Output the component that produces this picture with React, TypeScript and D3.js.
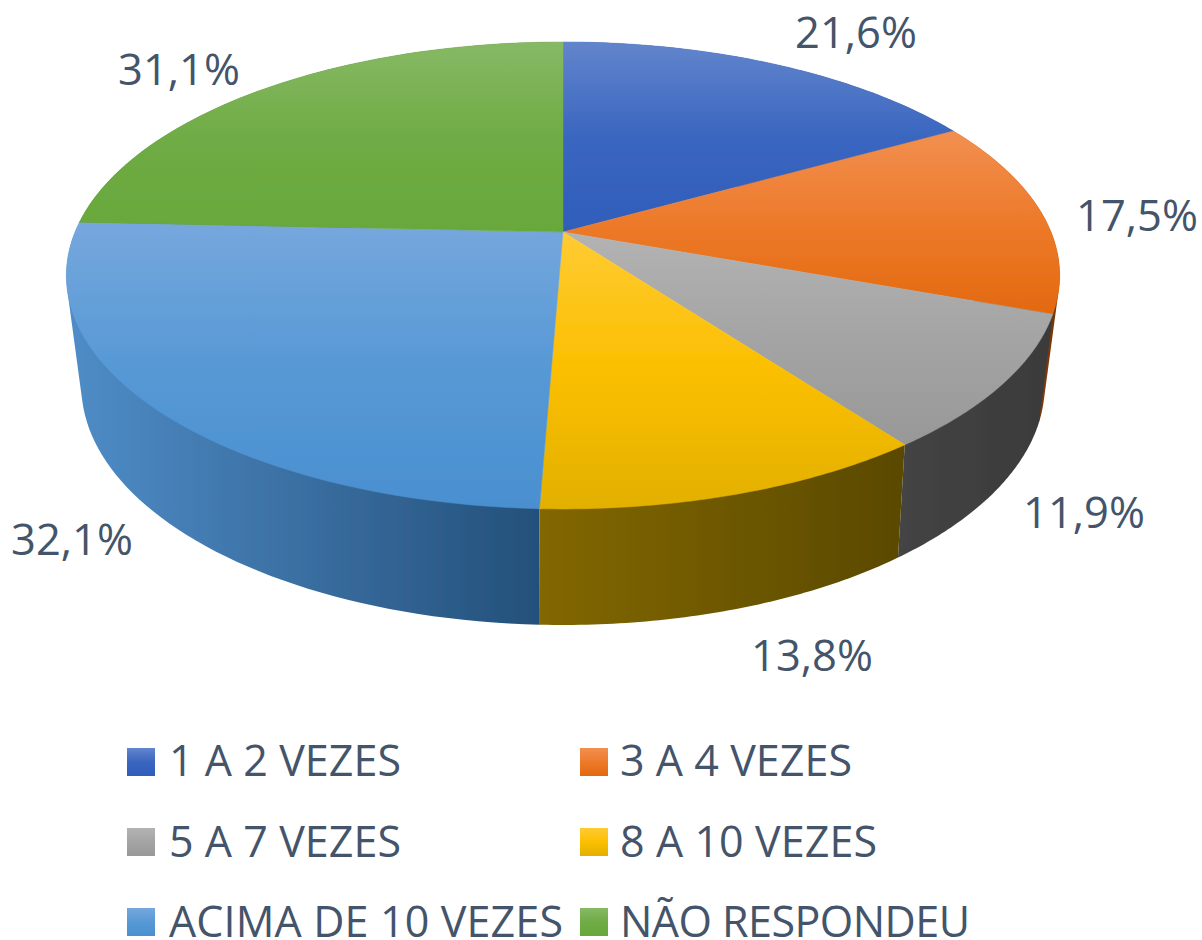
import React from "react";
import * as d3 from "d3";

const categories = ["1 A 2 VEZES", "3 A 4 VEZES", "5 A 7 VEZES", "8 A 10 VEZES", "ACIMA DE 10 VEZES", "NÃO RESPONDEU"];
const values = [21.6, 17.5, 11.9, 13.8, 32.1, 31.1];
const valueLabels = ["21,6%", "17,5%", "11,9%", "13,8%", "32,1%", "31,1%"];

const topLight = ["#6285cc", "#f28f50", "#b3b3b3", "#ffcb33", "#76a7dd", "#87b965"];
const topMid = ["#3a66c0", "#ed7a2a", "#a4a4a4", "#fbbf00", "#5799d5", "#6fac45"];
const topDark = ["#2f5dba", "#e3690f", "#989898", "#e2b000", "#4a8fd0", "#68a83b"];
const wallLeft = ["#274a8e", "#a8500f", "#444444", "#826700", "#4f8dc8", "#4d7d2c"];
const wallRight = ["#1f3c74", "#70360a", "#3a3a3a", "#5a4900", "#24507a", "#3e6624"];

const W = 1202, H = 940;
const top = { cx: 563, cy: 232, a: 488, b: 225.4, p: 0.186 };
const bottom = { cx: 563, cy: 337.5, a: 472, b: 230, p: 0.2 };
const labelPos: [number, number][] = [[856, 48], [1137, 231], [1084, 528], [812, 671], [72, 555], [179, 85]];
const swatchPos: [number, number][] = [[127, 748], [580, 748], [127, 828], [580, 828], [127, 908], [580, 908]];
const legendPos: [number, number, number][] = [[169, 776, 232], [620, 776, 232], [169, 857, 232], [620, 857, 257], [169, 937, 394], [620, 937, 350]];
const drawOrder = [0, 5, 1, 4, 2, 3];
const TEXT = "#44546A";
const FONT = "'Open Sans', sans-serif";

type Disc = typeof top;
const project = (d: Disc, t: number): [number, number] => {
  const w = 1 + d.p * Math.cos(t);
  return [d.cx + (d.a * Math.sin(t)) / w, d.cy - (d.b * Math.cos(t)) / w];
};
const arcPoints = (d: Disc, t0: number, t1: number) =>
  d3.range(0, 61).map((i) => project(d, t0 + ((t1 - t0) * i) / 60));

export default function App() {
  const arcs = d3.pie<number>().sort(null)(values);
  const line = d3.line().curve(d3.curveLinearClosed);

  const walls = drawOrder.map((i) => {
    const a = arcs[i];
    const pts = [...arcPoints(top, a.startAngle, a.endAngle), ...arcPoints(bottom, a.startAngle, a.endAngle)];
    const hull = d3.polygonHull(pts as [number, number][])!;
    const xs = d3.extent(hull, (p) => p[0]) as [number, number];
    return { i, d: line(hull)!, xs };
  });

  return (
    <svg width={W} height={H} viewBox={`0 0 ${W} ${H}`} style={{ position: "absolute", left: 0, top: 0 }}>
      <defs>
        {categories.map((_, i) => (
          <linearGradient key={i} id={`top${i}`} x1="0" y1="0" x2="0" y2="1">
            <stop offset="0" stopColor={topLight[i]} />
            <stop offset="0.5" stopColor={topMid[i]} />
            <stop offset="1" stopColor={topDark[i]} />
          </linearGradient>
        ))}
        {walls.map((w) => (
          <linearGradient key={w.i} id={`wall${w.i}`} gradientUnits="userSpaceOnUse" x1={w.xs[0]} y1="0" x2={w.xs[1]} y2="0">
            <stop offset="0" stopColor={wallLeft[w.i]} />
            <stop offset="1" stopColor={wallRight[w.i]} />
          </linearGradient>
        ))}
        <filter id="soft" x="-2%" y="-2%" width="104%" height="104%">
          <feGaussianBlur stdDeviation="0.6" />
        </filter>
      </defs>
      <g filter="url(#soft)">
        {walls.map((w) => (
          <path key={w.i} d={w.d} fill={`url(#wall${w.i})`} />
        ))}
        {arcs.map((a, i) => {
          const pts: [number, number][] = [[top.cx, top.cy], ...arcPoints(top, a.startAngle, a.endAngle)];
          return <path key={i} d={line(pts)!} fill={`url(#top${i})`} stroke={`url(#top${i})`} strokeWidth={0.5} />;
        })}
      </g>
      <g fontFamily={FONT} fontSize={43} fill={TEXT}>
        {valueLabels.map((t, i) => (
          <text key={i} x={labelPos[i][0]} y={labelPos[i][1]} textAnchor="middle" fontSize={43.5}>{t}</text>
        ))}
        {categories.map((c, i) => (
          <g key={c}>
            <rect x={swatchPos[i][0]} y={swatchPos[i][1]} width={28} height={28} fill={`url(#top${i})`} />
            <text x={legendPos[i][0]} y={legendPos[i][1]} textLength={legendPos[i][2]} lengthAdjust="spacing">{c}</text>
          </g>
        ))}
      </g>
    </svg>
  );
}
